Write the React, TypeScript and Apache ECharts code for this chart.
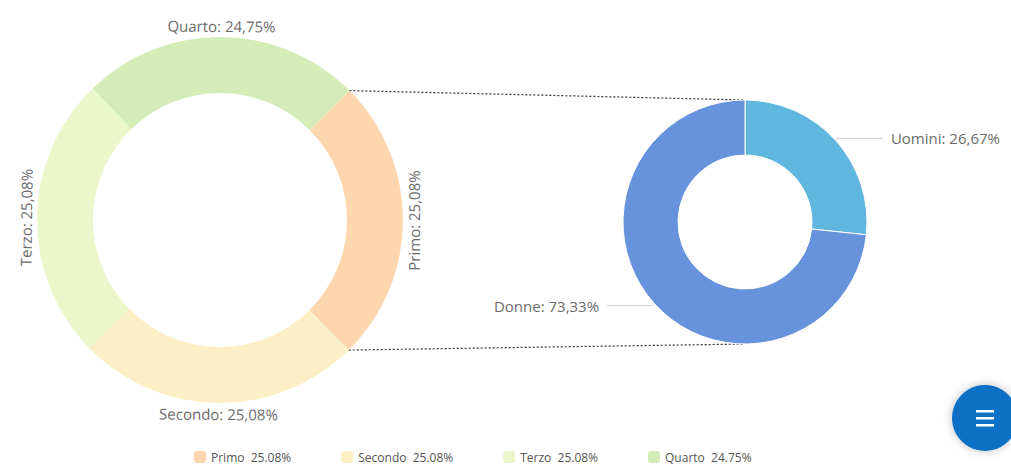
import React, { useEffect, useRef } from "react";
import * as echarts from "echarts";

const quarterNames = ["Primo", "Secondo", "Terzo", "Quarto"];
const quarterValues = [25.08, 25.08, 25.08, 24.75];
const quarterColors = ["#fdd6ad", "#fdefc5", "#ebf6cb", "#d3ecb8"];

const genderNames = ["Uomini", "Donne"];
const genderValues = [26.67, 73.33];
const genderColors = ["#5fb6de", "#6793dc"];

const BIG_C = [220, 220];
const BIG_R = [127, 183];
const SMALL_C = [745, 222];
const SMALL_R = [67, 122];
const FONT = "'Open Sans', 'Noto Sans', sans-serif";

const fmtComma = (v: number) => v.toFixed(2).replace(".", ",");

export default function App() {
  const ref = useRef<HTMLDivElement>(null);
  useEffect(() => {
    if (!ref.current) return;
    const chart = echarts.init(ref.current, null, { renderer: "svg" });
    const bigData = quarterNames.map((n, i) => ({
      name: n,
      value: quarterValues[i],
      itemStyle: { color: quarterColors[i] },
    }));
    const total = quarterValues.reduce((a, b) => a + b, 0);
    const a1 = (45 * Math.PI) / 180;
    const a2 = ((45 - (quarterValues[0] / total) * 360) * Math.PI) / 180;
    const p1 = [BIG_C[0] + BIG_R[1] * Math.cos(a1), BIG_C[1] - BIG_R[1] * Math.sin(a1)];
    const p2 = [BIG_C[0] + BIG_R[1] * Math.cos(a2), BIG_C[1] - BIG_R[1] * Math.sin(a2)];
    const s1 = [SMALL_C[0], SMALL_C[1] - SMALL_R[1]];
    const s2 = [SMALL_C[0], SMALL_C[1] + SMALL_R[1]];
    const dotted = { stroke: "#333", lineWidth: 1.2, lineDash: [2, 2] };

    chart.setOption({
      animation: false,
      textStyle: { fontFamily: FONT },
      legend: {
        data: quarterNames,
        left: 189,
        top: 446,
        icon: "roundRect",
        itemWidth: 12,
        itemHeight: 12,
        itemGap: 50,
        textStyle: { color: "#555", fontSize: 12, fontFamily: FONT },
        formatter: (name: string) => {
          const i = quarterNames.indexOf(name);
          return `${name}  ${quarterValues[i].toFixed(2)}%`;
        },
      },
      series: [
        {
          type: "pie",
          center: BIG_C,
          radius: BIG_R,
          startAngle: 45,
          clockwise: true,
          silent: true,
          label: { show: false },
          labelLine: { show: false },
          data: bigData,
        },
        {
          type: "pie",
          center: BIG_C,
          radius: [BIG_R[1], BIG_R[1] + 16],
          startAngle: 45,
          clockwise: true,
          silent: true,
          itemStyle: { color: "rgba(0,0,0,0)" },
          label: {
            show: true,
            position: "inside",
            rotate: "tangential",
            color: "#6b6b6b",
            fontSize: 15,
            fontFamily: FONT,
            formatter: (p: any) => `${p.name}: ${fmtComma(p.value)}%`,
          },
          labelLine: { show: false },
          data: quarterNames.map((n, i) => ({
            name: n,
            value: quarterValues[i],
            itemStyle: { color: "rgba(0,0,0,0)" },
          })),
        },
        {
          type: "pie",
          center: SMALL_C,
          radius: SMALL_R,
          startAngle: 90,
          clockwise: true,
          silent: true,
          itemStyle: { borderColor: "#fff", borderWidth: 1 },
          label: {
            show: true,
            position: "outside",
            color: "#6b6b6b",
            fontSize: 15,
            fontFamily: FONT,
            distanceToLabelLine: 8,
            formatter: (p: any) => `${p.name}: ${fmtComma(p.value)}%`,
          },
          labelLine: {
            show: true,
            length: 3,
            length2: 45,
            lineStyle: { color: "#ccc", width: 1 },
          },
          data: genderNames.map((n, i) => ({
            name: n,
            value: genderValues[i],
            itemStyle: { color: genderColors[i] },
          })),
        },
      ],
      graphic: [
        { type: "line", shape: { x1: p1[0], y1: p1[1], x2: s1[0], y2: s1[1] }, style: dotted, silent: true },
        { type: "line", shape: { x1: p2[0], y1: p2[1], x2: s2[0], y2: s2[1] }, style: dotted, silent: true },
        {
          type: "circle",
          shape: { cx: 985, cy: 418, r: 33 },
          style: { fill: "#0b6fc4", shadowBlur: 10, shadowColor: "rgba(0,0,0,0.25)" },
          silent: true,
        },
        { type: "rect", shape: { x: 976, y: 410, width: 18, height: 2.5 }, style: { fill: "#fff" }, silent: true },
        { type: "rect", shape: { x: 976, y: 417, width: 18, height: 2.5 }, style: { fill: "#fff" }, silent: true },
        { type: "rect", shape: { x: 976, y: 424, width: 18, height: 2.5 }, style: { fill: "#fff" }, silent: true },
      ],
    });
    return () => chart.dispose();
  }, []);
  return (
    <div
      ref={ref}
      style={{ position: "absolute", left: 0, top: 0, width: 1011, height: 469, background: "#fff" }}
    />
  );
}
